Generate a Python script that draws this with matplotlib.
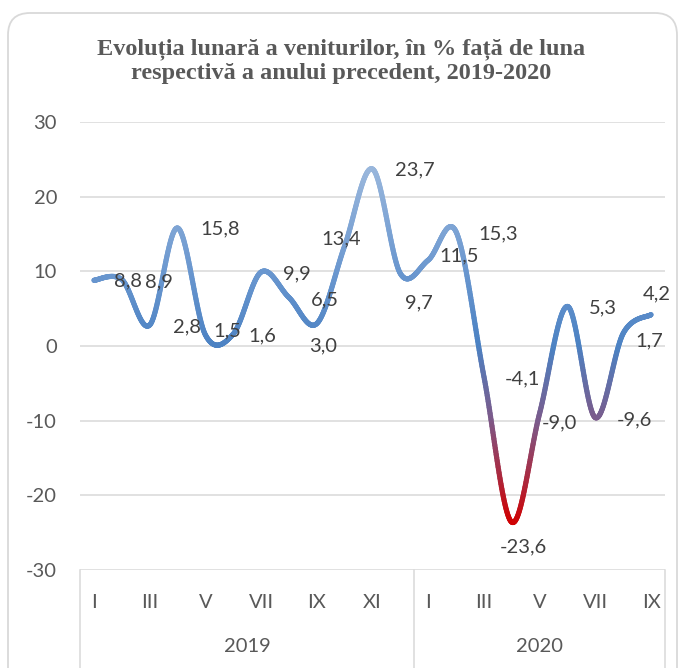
import numpy as np
import matplotlib
matplotlib.use("Agg")
import matplotlib.pyplot as plt
from matplotlib.collections import LineCollection
from matplotlib.colors import LinearSegmentedColormap, Normalize
from matplotlib.patches import FancyBboxPatch
from matplotlib.lines import Line2D
import matplotlib.transforms as mtransforms

# ---------------- data ----------------
years = ["2019", "2020"]
months_2019 = ["I", "II", "III", "IV", "V", "VI", "VII", "VIII", "IX", "X", "XI", "XII"]
months_2020 = ["I", "II", "III", "IV", "V", "VI", "VII", "VIII", "IX"]
values_2019 = [8.8, 8.9, 2.8, 15.8, 1.5, 1.6, 9.9, 6.5, 3.0, 13.4, 23.7, 9.7]
values_2020 = [11.5, 15.3, -4.1, -23.6, -9.0, 5.3, -9.6, 1.7, 4.2]
title = "Evoluția lunară a veniturilor, în % față de luna\nrespectivă a anului precedent, 2019-2020"
y_ticks = [-30, -20, -10, 0, 10, 20, 30]

# label offsets (pixels, right / down) relative to each point
label_offsets_px = [(34, 1), (37, 2), (37, 2), (43, 1), (22, -4), (29, 2), (36, 2), (36, 2),
                    (6, 22), (-3, -7), (42, 1), (19, 29),
                    (31, -4), (42, 2), (39, 2), (12, 25), (20, 10), (35, 1), (39, 2), (26, 8), (6, -21)]

values = values_2019 + values_2020
months = months_2019 + months_2020
n = len(values)
xs = np.arange(n, dtype=float)
ys = np.array(values, dtype=float)

W, H = 682, 668
fig = plt.figure(figsize=(W / 100, H / 100), dpi=100)
fig.patch.set_facecolor("white")

# rounded border
border = FancyBboxPatch((8 / 100, -30 / 100), (677 - 8) / 100, (H - 13 + 30) / 100,
                        boxstyle="round,pad=0,rounding_size=0.22",
                        transform=fig.dpi_scale_trans, facecolor="none",
                        edgecolor="#D9D9D9", linewidth=1.3, clip_on=False)
fig.patches.append(border)

ax = fig.add_axes([80 / W, 1 - 570 / H, 585 / W, 448 / H])
ax.set_xlim(-0.5, n - 0.5)
ax.set_ylim(-30, 30)
for s in ax.spines.values():
    s.set_visible(False)
ax.set_yticks(y_ticks)
ax.set_yticklabels([str(t) for t in y_ticks])
ax.tick_params(axis="y", length=0, pad=16.5, labelsize=14.5, labelcolor="#595959")
for lab in ax.get_yticklabels():
    lab.set_fontfamily("Lato")
ax.set_xticks([])
ax.yaxis.grid(True, color="#D9D9D9", linewidth=1.1)
ax.set_axisbelow(True)

# smooth curve (Catmull-Rom -> Bezier like Excel smoothing)
pts = np.column_stack([xs, ys])
curve = []
for i in range(n - 1):
    p0 = pts[i - 1] if i > 0 else pts[i]
    p1 = pts[i]
    p2 = pts[i + 1]
    p3 = pts[i + 2] if i + 2 < n else pts[i + 1]
    c1 = p1 + (p2 - p0) / 6.0
    c2 = p2 - (p3 - p1) / 6.0
    t = np.linspace(0, 1, 60)[:, None]
    seg = ((1 - t) ** 3) * p1 + 3 * ((1 - t) ** 2) * t * c1 + 3 * (1 - t) * t ** 2 * c2 + t ** 3 * p2
    if i > 0:
        seg = seg[1:]
    curve.append(seg)
curve = np.vstack(curve)
segs = np.stack([curve[:-1], curve[1:]], axis=1)
mids = (curve[:-1, 1] + curve[1:, 1]) / 2

cmap = LinearSegmentedColormap.from_list(
    "grad",
    [(0.0, "#D20000"), ((-10 + 24) / 48, "#7C5A8A"), ((0 + 24) / 48, "#4C82C3"),
     ((10 + 24) / 48, "#6A97CF"), (1.0, "#9AB7DC")])
norm = Normalize(-24, 24)
lc = LineCollection(segs, colors=cmap(norm(mids)), linewidths=3.7, capstyle="round",
                    joinstyle="round", zorder=3)
ax.add_collection(lc)

# data labels
for i, (v, (dx, dy)) in enumerate(zip(values, label_offsets_px)):
    txt = f"{v:.1f}".replace(".", ",")
    ax.annotate(txt, xy=(i, v), xytext=(dx * 0.72, -dy * 0.72), textcoords="offset points",
                ha="center", va="center", fontsize=14.5, color="#404040", fontfamily="Lato",
                zorder=4)

# category axis (multi-level)
trans = mtransforms.blended_transform_factory(ax.transData, ax.transAxes)
for i, m in enumerate(months):
    if i % 2 == 0:
        ax.text(i, (570 - 603) / 448, m, transform=trans, ha="center", va="center",
                fontsize=14.5, color="#595959", fontfamily="Lato")
n19 = len(months_2019)
ax.text((n19 - 1) / 2, (570 - 647) / 448, years[0], transform=trans, ha="center", va="center",
        fontsize=14.5, color="#595959", fontfamily="Lato")
ax.text(n19 + (len(months_2020) - 1) / 2, (570 - 647) / 448, years[1], transform=trans,
        ha="center", va="center", fontsize=14.5, color="#595959", fontfamily="Lato")
for xb in [-0.5, n19 - 0.5, n - 0.5]:
    ax.add_line(Line2D([xb, xb], [0, -0.3], transform=trans, color="#D9D9D9",
                       linewidth=1.1, clip_on=False))

fig.text(0.5, 1 - 61 / H, title, ha="center", va="center", fontsize=17.5,
         fontweight="bold", fontfamily="Liberation Serif", color="#595959", linespacing=1.15)

fig.savefig("out.png", dpi=100)
